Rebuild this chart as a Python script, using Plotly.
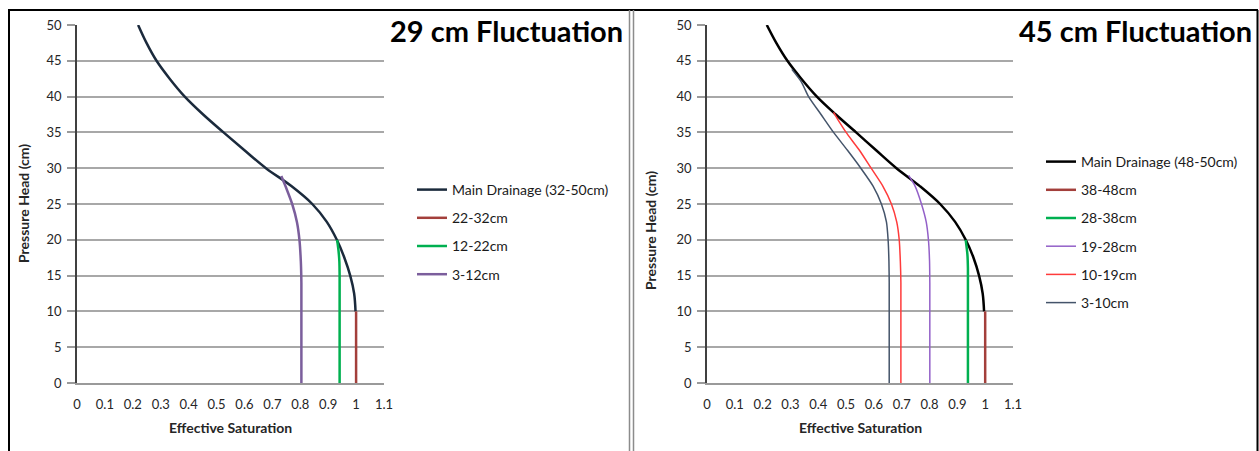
import plotly.graph_objects as go

W, H = 1259, 451

# ---- 29 cm fluctuation (left panel) ----
left_main_h = [50, 47.5, 45, 42.5, 40, 37.5, 35, 32.5, 30, 27.5, 25, 22.5, 20, 17.5, 15, 12.5, 10]
left_main_se = [0.219, 0.249, 0.285, 0.332, 0.386, 0.452, 0.525, 0.600, 0.677, 0.768, 0.843, 0.895, 0.931, 0.958, 0.979, 0.993, 0.998]

left_22_32_h = [10, 0]
left_22_32_se = [1.0, 1.0]

left_12_22_h = [20, 18.5, 17, 15, 0]
left_12_22_se = [0.932, 0.937, 0.940, 0.941, 0.941]

left_3_12_h = [28.9, 27, 25, 22.5, 20, 17, 14, 0]
left_3_12_se = [0.732, 0.752, 0.771, 0.788, 0.797, 0.802, 0.804, 0.804]

# ---- 45 cm fluctuation (right panel) ----
right_main_h = [50, 47.5, 45, 42.5, 40, 37.5, 35, 32.5, 30, 27.5, 25, 22.5, 20, 17.5, 15, 12.5, 10]
right_main_se = [0.215, 0.249, 0.289, 0.339, 0.395, 0.463, 0.536, 0.608, 0.681, 0.765, 0.838, 0.892, 0.930, 0.958, 0.978, 0.991, 0.996]

right_38_48_h = [10, 0]
right_38_48_se = [1.0, 1.0]

right_28_38_h = [20, 18, 16, 0]
right_28_38_se = [0.930, 0.936, 0.938, 0.938]

right_19_28_h = [29, 27.5, 25, 22.5, 20, 17, 14, 0]
right_19_28_se = [0.725, 0.748, 0.771, 0.788, 0.796, 0.800, 0.801, 0.801]

right_10_19_h = [37.8, 36.5, 35, 32.5, 30, 27.5, 25, 22.5, 20, 17, 14, 0]
right_10_19_se = [0.455, 0.475, 0.50, 0.548, 0.59, 0.632, 0.663, 0.682, 0.691, 0.695, 0.697, 0.697]

right_3_10_h = [43.8, 42, 40, 37.5, 35, 32.5, 30, 27.5, 25, 22.5, 20, 17, 14, 0]
right_3_10_se = [0.305, 0.34, 0.365, 0.41, 0.455, 0.505, 0.553, 0.597, 0.627, 0.645, 0.651, 0.654, 0.655, 0.655]

x_ticks = [0, 0.1, 0.2, 0.3, 0.4, 0.5, 0.6, 0.7, 0.8, 0.9, 1, 1.1]
x_tick_text = ["0", "0.1", "0.2", "0.3", "0.4", "0.5", "0.6", "0.7", "0.8", "0.9", "1", "1.1"]
y_ticks = [0, 5, 10, 15, 20, 25, 30, 35, 40, 45, 50]

FONT = "Lato"


def px(x):
    return x / W


def py(y):
    return 1 - y / H


fig = go.Figure()


def add_line(x, y, name, color, width, xa, ya, legend, smoothing=0.6):
    fig.add_trace(go.Scatter(
        x=x, y=y, mode="lines", name=name,
        line=dict(color=color, width=width, shape="spline", smoothing=smoothing),
        xaxis=xa, yaxis=ya, legend=legend, legendgroup=legend + name,
        hoverinfo="skip",
    ))


# left panel traces
add_line(left_main_se, left_main_h, "Main Drainage (32-50cm)", "#1b2a3c", 2.5, "x", "y", "legend", 1.0)
add_line(left_22_32_se, left_22_32_h, "22-32cm", "#a33f3b", 2.5, "x", "y", "legend")
add_line(left_12_22_se, left_12_22_h, "12-22cm", "#00b050", 2.5, "x", "y", "legend")
add_line(left_3_12_se, left_3_12_h, "3-12cm", "#7b5e9c", 2.5, "x", "y", "legend")

# right panel traces
add_line(right_main_se, right_main_h, "Main Drainage (48-50cm)", "#000000", 2.5, "x2", "y2", "legend2", 1.0)
add_line(right_38_48_se, right_38_48_h, "38-48cm", "#a33f3b", 2.5, "x2", "y2", "legend2")
add_line(right_28_38_se, right_28_38_h, "28-38cm", "#00b050", 2.5, "x2", "y2", "legend2")
add_line(right_19_28_se, right_19_28_h, "19-28cm", "#9360c8", 1.5, "x2", "y2", "legend2")
add_line(right_10_19_se, right_10_19_h, "10-19cm", "#ff3b3b", 1.5, "x2", "y2", "legend2")
add_line(right_3_10_se, right_3_10_h, "3-10cm", "#44546a", 1.5, "x2", "y2", "legend2")

xaxis_common = dict(
    range=[0, 1.1], tickvals=x_ticks, ticktext=x_tick_text, showgrid=False,
    zeroline=False, showline=True, linecolor="#9a9a9a", linewidth=2,
    ticks="", ticklabelstandoff=8, automargin=False,
    tickfont=dict(family=FONT, size=13, color="#262626"),
)
yaxis_common = dict(
    range=[0, 50], tickvals=y_ticks, showgrid=True, gridcolor="#a8a8a8", gridwidth=1.5,
    zeroline=False, showline=True, linecolor="#404040", linewidth=1.5,
    ticks="outside", ticklen=8, tickcolor="#9a9a9a", tickwidth=1.5, automargin=False,
    ticklabelstandoff=3,
    tickfont=dict(family=FONT, size=13, color="#262626"),
)

y_dom = [py(383), py(25)]

legend_common = dict(
    bgcolor="rgba(0,0,0,0)", borderwidth=0, tracegroupgap=7,
    font=dict(family=FONT, size=14, color="#1a1a1a"),
    xanchor="left", yanchor="top", itemclick=False, itemdoubleclick=False,
    traceorder="grouped",
)

fig.update_layout(
    width=W, height=H, margin=dict(l=0, r=0, t=0, b=0, autoexpand=False),
    paper_bgcolor="white", plot_bgcolor="white", showlegend=True,
    xaxis=dict(domain=[px(77), px(384)], anchor="y", **xaxis_common),
    yaxis=dict(domain=y_dom, anchor="x", **yaxis_common),
    xaxis2=dict(domain=[px(707), px(1013)], anchor="y2", **xaxis_common),
    yaxis2=dict(domain=y_dom, anchor="x2", **yaxis_common),
    legend=dict(x=px(412), y=py(174), **legend_common),
    legend2=dict(x=px(1041), y=py(146), **legend_common),
)

# panel titles and axis titles
annotations = [
    dict(text="<b>29 cm Fluctuation</b>", x=px(388), y=py(31), xanchor="left", yanchor="middle",
         font=dict(family=FONT, size=29, color="#000000")),
    dict(text="<b>45 cm Fluctuation</b>", x=px(1017), y=py(31), xanchor="left", yanchor="middle",
         font=dict(family=FONT, size=29, color="#000000")),
    dict(text="<b>Effective Saturation</b>", x=px(230), y=py(427), xanchor="center", yanchor="middle",
         font=dict(family=FONT, size=14, color="#262626")),
    dict(text="<b>Effective Saturation</b>", x=px(860), y=py(427), xanchor="center", yanchor="middle",
         font=dict(family=FONT, size=14, color="#262626")),
    dict(text="<b>Pressure Head (cm)</b>", x=px(23), y=py(204), xanchor="center", yanchor="middle",
         textangle=-90, font=dict(family=FONT, size=14, color="#262626")),
    dict(text="<b>Pressure Head (cm)</b>", x=px(650), y=py(231), xanchor="center", yanchor="middle",
         textangle=-90, font=dict(family=FONT, size=14, color="#262626")),
]
for a in annotations:
    a.update(xref="paper", yref="paper", showarrow=False)
fig.update_layout(annotations=annotations)

# outer frame and the double divider between the two panels
shapes = [
    dict(type="line", x0=px(8), x1=px(1258), y0=py(10), y1=py(10), line=dict(color="#000000", width=2)),
    dict(type="line", x0=px(9), x1=px(9), y0=py(10), y1=0, line=dict(color="#000000", width=2)),
    dict(type="line", x0=px(1257.5), x1=px(1257.5), y0=py(10), y1=0, line=dict(color="#000000", width=2)),
    dict(type="line", x0=px(629.5), x1=px(629.5), y0=py(10), y1=0, line=dict(color="#8c8c8c", width=1.5)),
    dict(type="line", x0=px(633.5), x1=px(633.5), y0=py(10), y1=0, line=dict(color="#8c8c8c", width=1.5)),
]
for s in shapes:
    s.update(xref="paper", yref="paper")
fig.update_layout(shapes=shapes)

fig.write_html("out.html")
